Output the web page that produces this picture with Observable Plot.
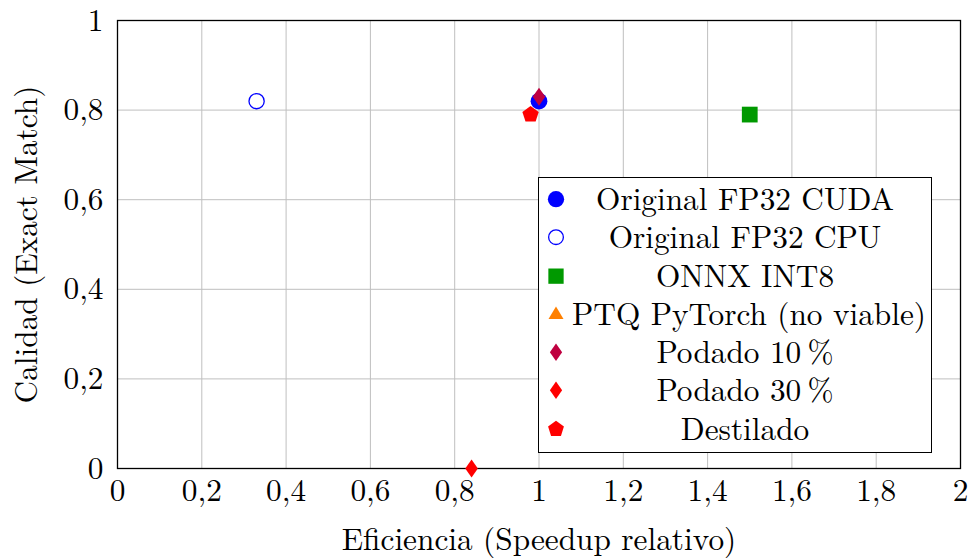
<!DOCTYPE html>
<html>
<head>
<meta charset="utf-8">
<script src="https://cdn.jsdelivr.net/npm/d3@7"></script>
<script src="https://cdn.jsdelivr.net/npm/@observablehq/plot@0.6"></script>
</head>
<body style="margin:0;padding:0;background:#fff">
<div id="wrap" style="position:relative;width:969px;height:558px;font-family:'Latin Modern Roman'">
  <div id="legend" style="position:absolute;left:538px;top:177px;width:394px;height:276px;border:1.3px solid #000;background:#fff;box-sizing:border-box;padding-top:1px;font-family:'Latin Modern Roman'"></div>
</div>
<script>
// ---- data ----
const series = ["Original FP32 CUDA", "Original FP32 CPU", "ONNX INT8", "PTQ PyTorch (no viable)", "Podado 10\u2009%", "Podado 30\u2009%", "Destilado"];
const speedup = [1.0, 0.33, 1.5, null, 1.0, 0.84, 0.98];
const quality = [0.82, 0.82, 0.79, null, 0.83, 0.0, 0.79];
const colors = ["#0000ff", "#0000ff", "#009900", "#ff8000", "#bf0040", "#ff0000", "#ff0000"];
const markers = ["circle", "circle-open", "square", "triangle", "diamond", "diamond", "pentagon"];
const xTicks = [0, 0.2, 0.4, 0.6, 0.8, 1, 1.2, 1.4, 1.6, 1.8, 2];
const yTicks = [0, 0.2, 0.4, 0.6, 0.8, 1];
const xLabel = "Eficiencia (Speedup relativo)";
const yLabel = "Calidad (Exact Match)";

const FONT = "Latin Modern Roman";
const FS = 31.3;

// ---- custom symbols (size = area, r = sqrt(area/pi)) ----
const rad = s => Math.sqrt(s / Math.PI);
const symCircle = d3.symbolCircle;
const symSquare = {draw(c, s) { const r = rad(s) * 0.95; c.rect(-r, -r, 2 * r, 2 * r); }};
const symDiamond = {draw(c, s) { const r = rad(s) * 1.05; const w = r * 0.7; c.moveTo(0, -r); c.lineTo(w, 0); c.lineTo(0, r); c.lineTo(-w, 0); c.closePath(); }};
const symPentagon = {draw(c, s) { const r = rad(s); for (let i = 0; i < 5; i++) { const a = -Math.PI / 2 + i * 2 * Math.PI / 5; const x = r * Math.cos(a), y = r * Math.sin(a); i ? c.lineTo(x, y) : c.moveTo(x, y); } c.closePath(); }};
const symTriangle = {draw(c, s) { const r = rad(s); const w = r * 0.92; c.moveTo(0, -r * 0.95); c.lineTo(w, r * 0.6); c.lineTo(-w, r * 0.6); c.closePath(); }};
const symbolOf = m => ({circle: symCircle, "circle-open": symCircle, square: symSquare, triangle: symTriangle, diamond: symDiamond, pentagon: symPentagon})[m];
const radiusOf = m => ({circle: 8.4, "circle-open": 7.6, square: 8.3, triangle: 8.4, diamond: 8.6, pentagon: 8.6})[m];

const fmt = d => String(d).replace(".", ",");

const marks = [
  Plot.gridX(xTicks, {stroke: "#bfbfbf", strokeOpacity: 1, strokeWidth: 1}),
  Plot.gridY(yTicks, {stroke: "#bfbfbf", strokeOpacity: 1, strokeWidth: 1}),
  Plot.axisX(xTicks, {tickSize: 0, tickPadding: 10, tickFormat: fmt, label: xLabel, labelAnchor: "center", labelArrow: "none", labelOffset: 81}),
  Plot.axisY(yTicks, {tickSize: 0, tickPadding: 14, tickFormat: fmt, label: yLabel, labelAnchor: "center", labelArrow: "none", labelOffset: 103}),
  Plot.frame({stroke: "#000", strokeWidth: 1.3})
];
series.forEach((name, i) => {
  if (speedup[i] == null) return;
  const open = markers[i] === "circle-open";
  marks.push(Plot.dot([{x: speedup[i], y: quality[i]}], {
    x: "x", y: "y",
    symbol: () => symbolOf(markers[i]),
    r: radiusOf(markers[i]),
    fill: open ? "none" : colors[i],
    stroke: open ? colors[i] : "none",
    strokeWidth: open ? 1.3 : 0,
    fillOpacity: 1
  }));
});

const chart = Plot.plot({
  width: 969, height: 558,
  marginLeft: 117, marginRight: 9, marginTop: 20, marginBottom: 90,
  x: {domain: [0, 2]},
  y: {domain: [0, 1]},
  style: {fontFamily: FONT, fontSize: FS + "px", color: "#000", background: "#fff"},
  marks
});
chart.setAttribute("font-family", FONT);
document.getElementById("wrap").prepend(chart);

// ---- legend ----
const legend = d3.select("#legend");
series.forEach((name, i) => {
  const row = legend.append("div").style("position", "relative").style("height", "38.3px");
  const svg = row.append("svg").attr("width", 22).attr("height", 38.3)
    .style("position", "absolute").style("left", "6px").style("top", "1px");
  const open = markers[i] === "circle-open";
  const r = radiusOf(markers[i]) * 0.97;
  svg.append("path")
    .attr("transform", "translate(11,19.15)")
    .attr("d", d3.symbol(symbolOf(markers[i]), Math.PI * r * r)())
    .attr("fill", open ? "none" : colors[i])
    .attr("stroke", open ? colors[i] : "none")
    .attr("stroke-width", open ? 1.3 : 0);
  row.append("span").text(name)
    .style("position", "absolute").style("left", "33px").style("right", "13px").style("top", "-1px")
    .style("line-height", "38.3px").style("text-align", "center")
    .style("font-family", FONT).style("font-size", FS + "px")
    .style("white-space", "nowrap").style("color", "#000");
});
</script>
</body>
</html>
